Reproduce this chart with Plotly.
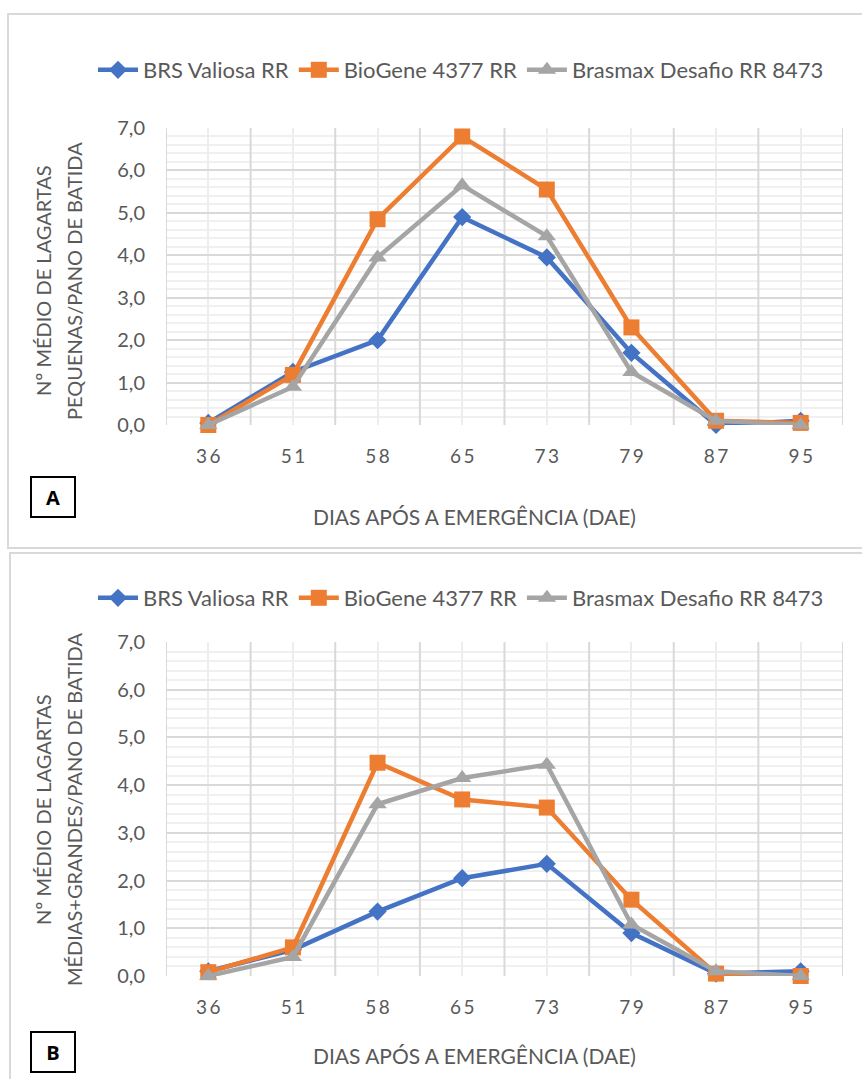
import plotly.graph_objects as go

# ---------------- data ----------------
dae = ["36", "51", "58", "65", "73", "79", "87", "95"]
series_names = ["BRS Valiosa RR", "BioGene 4377 RR", "Brasmax Desafio RR 8473"]
series_colors = ["#4472C4", "#ED7D31", "#A5A5A5"]
series_symbols = ["diamond", "square", "triangle-up"]
series_sizes = [14, 16, 16]

pequenas_valiosa = [0.05, 1.25, 2.0, 4.9, 3.95, 1.7, 0.0, 0.1]
pequenas_biogene = [0.0, 1.18, 4.85, 6.8, 5.55, 2.3, 0.1, 0.05]
pequenas_brasmax = [0.0, 0.9, 3.95, 5.65, 4.45, 1.25, 0.1, 0.0]

medgrandes_valiosa = [0.1, 0.55, 1.35, 2.05, 2.35, 0.9, 0.05, 0.1]
medgrandes_biogene = [0.08, 0.6, 4.47, 3.7, 3.53, 1.6, 0.05, 0.0]
medgrandes_brasmax = [0.0, 0.4, 3.6, 4.15, 4.43, 1.08, 0.1, 0.0]

y_tick_values = [0, 1, 2, 3, 4, 5, 6, 7]
x_title = "DIAS APÓS A EMERGÊNCIA (DAE)"
y_title_a = ["Nº MÉDIO DE LAGARTAS", "PEQUENAS/PANO DE BATIDA"]
y_title_b = ["Nº MÉDIO DE LAGARTAS", "MÉDIAS+GRANDES/PANO DE BATIDA"]
panel_labels = ["A", "B"]

# ---------------- geometry ----------------
W, H = 862, 1079
FONT = "Lato, 'Open Sans', sans-serif"
TXT = "#595959"


def px(x):
    return x / W


def py(y):
    return 1 - y / H


xpos = list(range(len(dae)))
ticktext = ["\u2009".join(list(d)) for d in dae]
y_min, y_max = y_tick_values[0], y_tick_values[-1]

fig = go.Figure()

panels = [
    ("x", "y", "legend", [pequenas_valiosa, pequenas_biogene, pequenas_brasmax]),
    ("x2", "y2", "legend2", [medgrandes_valiosa, medgrandes_biogene, medgrandes_brasmax]),
]
for xa, ya, lg, vals in panels:
    for name, col, sym, sz, v in zip(series_names, series_colors, series_symbols, series_sizes, vals):
        fig.add_trace(go.Scatter(
            x=xpos, y=v, name=name, mode="lines+markers",
            xaxis=xa, yaxis=ya, legend=lg,
            line=dict(color=col, width=4.5),
            marker=dict(symbol=sym, size=sz, color=col),
            cliponaxis=False,
        ))

x_dom = [px(166), px(843)]
y_dom_a = [py(425), py(128)]
y_dom_b = [py(976), py(642)]

xaxis_common = dict(
    domain=x_dom, range=[-0.5, len(dae) - 0.5],
    tickmode="array", tickvals=xpos, ticktext=ticktext,
    showgrid=True, gridcolor="#EDEDED", gridwidth=2,
    ticks="outside", ticklen=14, tickcolor="rgba(0,0,0,0)",
    tickfont=dict(family=FONT, size=19, color=TXT),
    zeroline=False, showline=False, fixedrange=True,
)
yaxis_common = dict(
    range=[y_min, y_max], tickmode="array", tickvals=y_tick_values, tickformat=".1f",
    showgrid=True, gridcolor="#D9D9D9", gridwidth=2,
    minor=dict(dtick=0.2, tick0=0, showgrid=True, gridcolor="#F0F0F0", gridwidth=2),
    ticks="outside", ticklen=16, tickcolor="rgba(0,0,0,0)",
    tickfont=dict(family=FONT, size=20, color=TXT),
    zeroline=False, showline=False, fixedrange=True,
)

legend_common = dict(
    orientation="h", xanchor="center", yanchor="middle", x=px(461),
    font=dict(family=FONT, size=22, color=TXT), bgcolor="rgba(0,0,0,0)",
    itemwidth=40, tracegroupgap=0,
)

fig.update_layout(
    width=W, height=H, autosize=False,
    margin=dict(l=0, r=0, t=0, b=0, pad=0, autoexpand=False),
    paper_bgcolor="white", plot_bgcolor="white",
    separators=",.",
    xaxis=dict(xaxis_common, anchor="y"),
    yaxis=dict(yaxis_common, domain=y_dom_a, anchor="x"),
    xaxis2=dict(xaxis_common, anchor="y2"),
    yaxis2=dict(yaxis_common, domain=y_dom_b, anchor="x2"),
    legend=dict(legend_common, y=py(70)),
    legend2=dict(legend_common, y=py(598)),
    showlegend=True,
)

# panel frames
fig.add_shape(type="rect", xref="paper", yref="paper",
              x0=px(8), x1=px(875), y0=py(548), y1=py(14),
              line=dict(color="#D9D9D9", width=2), layer="below")
fig.add_shape(type="rect", xref="paper", yref="paper",
              x0=px(10), x1=px(875), y0=py(1095), y1=py(553),
              line=dict(color="#D9D9D9", width=2), layer="below")

# category boundary grid lines (drawn above the fine horizontal grid)
for xa, ya in (("x", "y"), ("x2", "y2")):
    for i in range(len(dae) + 1):
        fig.add_shape(type="line", xref=xa, yref=ya,
                      x0=i - 0.5, x1=i - 0.5, y0=y_min, y1=y_max,
                      line=dict(color="#D9D9D9", width=2), layer="between")

ann = []
# x titles
for yy in (517, 1055):
    ann.append(dict(text=x_title, x=px(474), y=py(yy), xref="paper", yref="paper",
                    showarrow=False, xanchor="center", yanchor="middle",
                    font=dict(family=FONT, size=21, color=TXT)))
# y titles
for (l1, l2), yc in ((y_title_a, 281), (y_title_b, 810)):
    for t, xx in ((l1, 43), (l2, 74)):
        ann.append(dict(text=t, x=px(xx), y=py(yc), xref="paper", yref="paper",
                        showarrow=False, textangle=-90, xanchor="center", yanchor="middle",
                        font=dict(family=FONT, size=20, color=TXT)))
# panel labels
for lab, yc in zip(panel_labels, (497, 1052)):
    ann.append(dict(text="<b>%s</b>" % lab, x=px(53), y=py(yc), xref="paper", yref="paper",
                    showarrow=False, xanchor="center", yanchor="middle",
                    font=dict(family="'Open Sans', sans-serif", size=20, color="black"),
                    bordercolor="black", borderwidth=2, borderpad=6, width=30, height=26,
                    bgcolor="white"))
fig.update_layout(annotations=ann)

fig.write_html("out.html")
